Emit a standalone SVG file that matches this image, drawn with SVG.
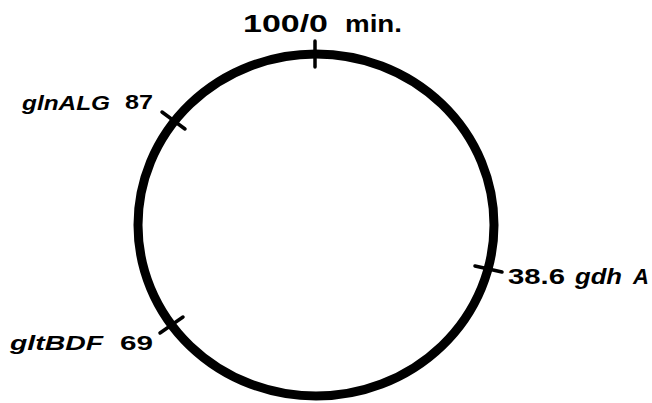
<svg xmlns="http://www.w3.org/2000/svg" width="652" height="403" viewBox="0 0 652 403">
<style>
.lbl{font-family:"Liberation Sans","DejaVu Sans",Arial,sans-serif;font-weight:bold;fill:#000}
.gene{font-style:italic}
.tick{stroke:#000;stroke-width:3.5;stroke-linecap:round;fill:none}
</style>
<rect width="652" height="403" fill="#fff"/>
<g id="chromosome">
<ellipse cx="316" cy="225" rx="178" ry="171" fill="none" stroke="#000" stroke-width="9"/>
</g>
<g id="origin">
<line class="tick" x1="315" y1="41" x2="315" y2="67"/>
<text class="lbl" x="243" y="32" font-size="23" textLength="85" lengthAdjust="spacingAndGlyphs">100/0</text>
<text class="lbl" x="345" y="32" font-size="23" textLength="57" lengthAdjust="spacingAndGlyphs">min.</text>
</g>
<g id="glnALG">
<line class="tick" x1="162" y1="112" x2="185" y2="129"/>
<text class="lbl gene" x="22" y="110" font-size="21" textLength="88" lengthAdjust="spacingAndGlyphs">glnALG</text>
<text class="lbl" x="125" y="109" font-size="21" textLength="28" lengthAdjust="spacingAndGlyphs">87</text>
</g>
<g id="gdhA">
<line class="tick" x1="475" y1="266" x2="502" y2="272"/>
<text class="lbl" x="508" y="284" font-size="22" textLength="57" lengthAdjust="spacingAndGlyphs">38.6</text>
<text class="lbl gene" x="575" y="284" font-size="22" textLength="47" lengthAdjust="spacingAndGlyphs">gdh</text>
<text class="lbl gene" x="633" y="284" font-size="22">A</text>
</g>
<g id="gltBDF">
<line class="tick" x1="160" y1="333" x2="183" y2="317"/>
<text class="lbl gene" x="10" y="350" font-size="20" textLength="93" lengthAdjust="spacingAndGlyphs">gltBDF</text>
<text class="lbl" x="120" y="350" font-size="20" textLength="33" lengthAdjust="spacingAndGlyphs">69</text>
</g>
</svg>
